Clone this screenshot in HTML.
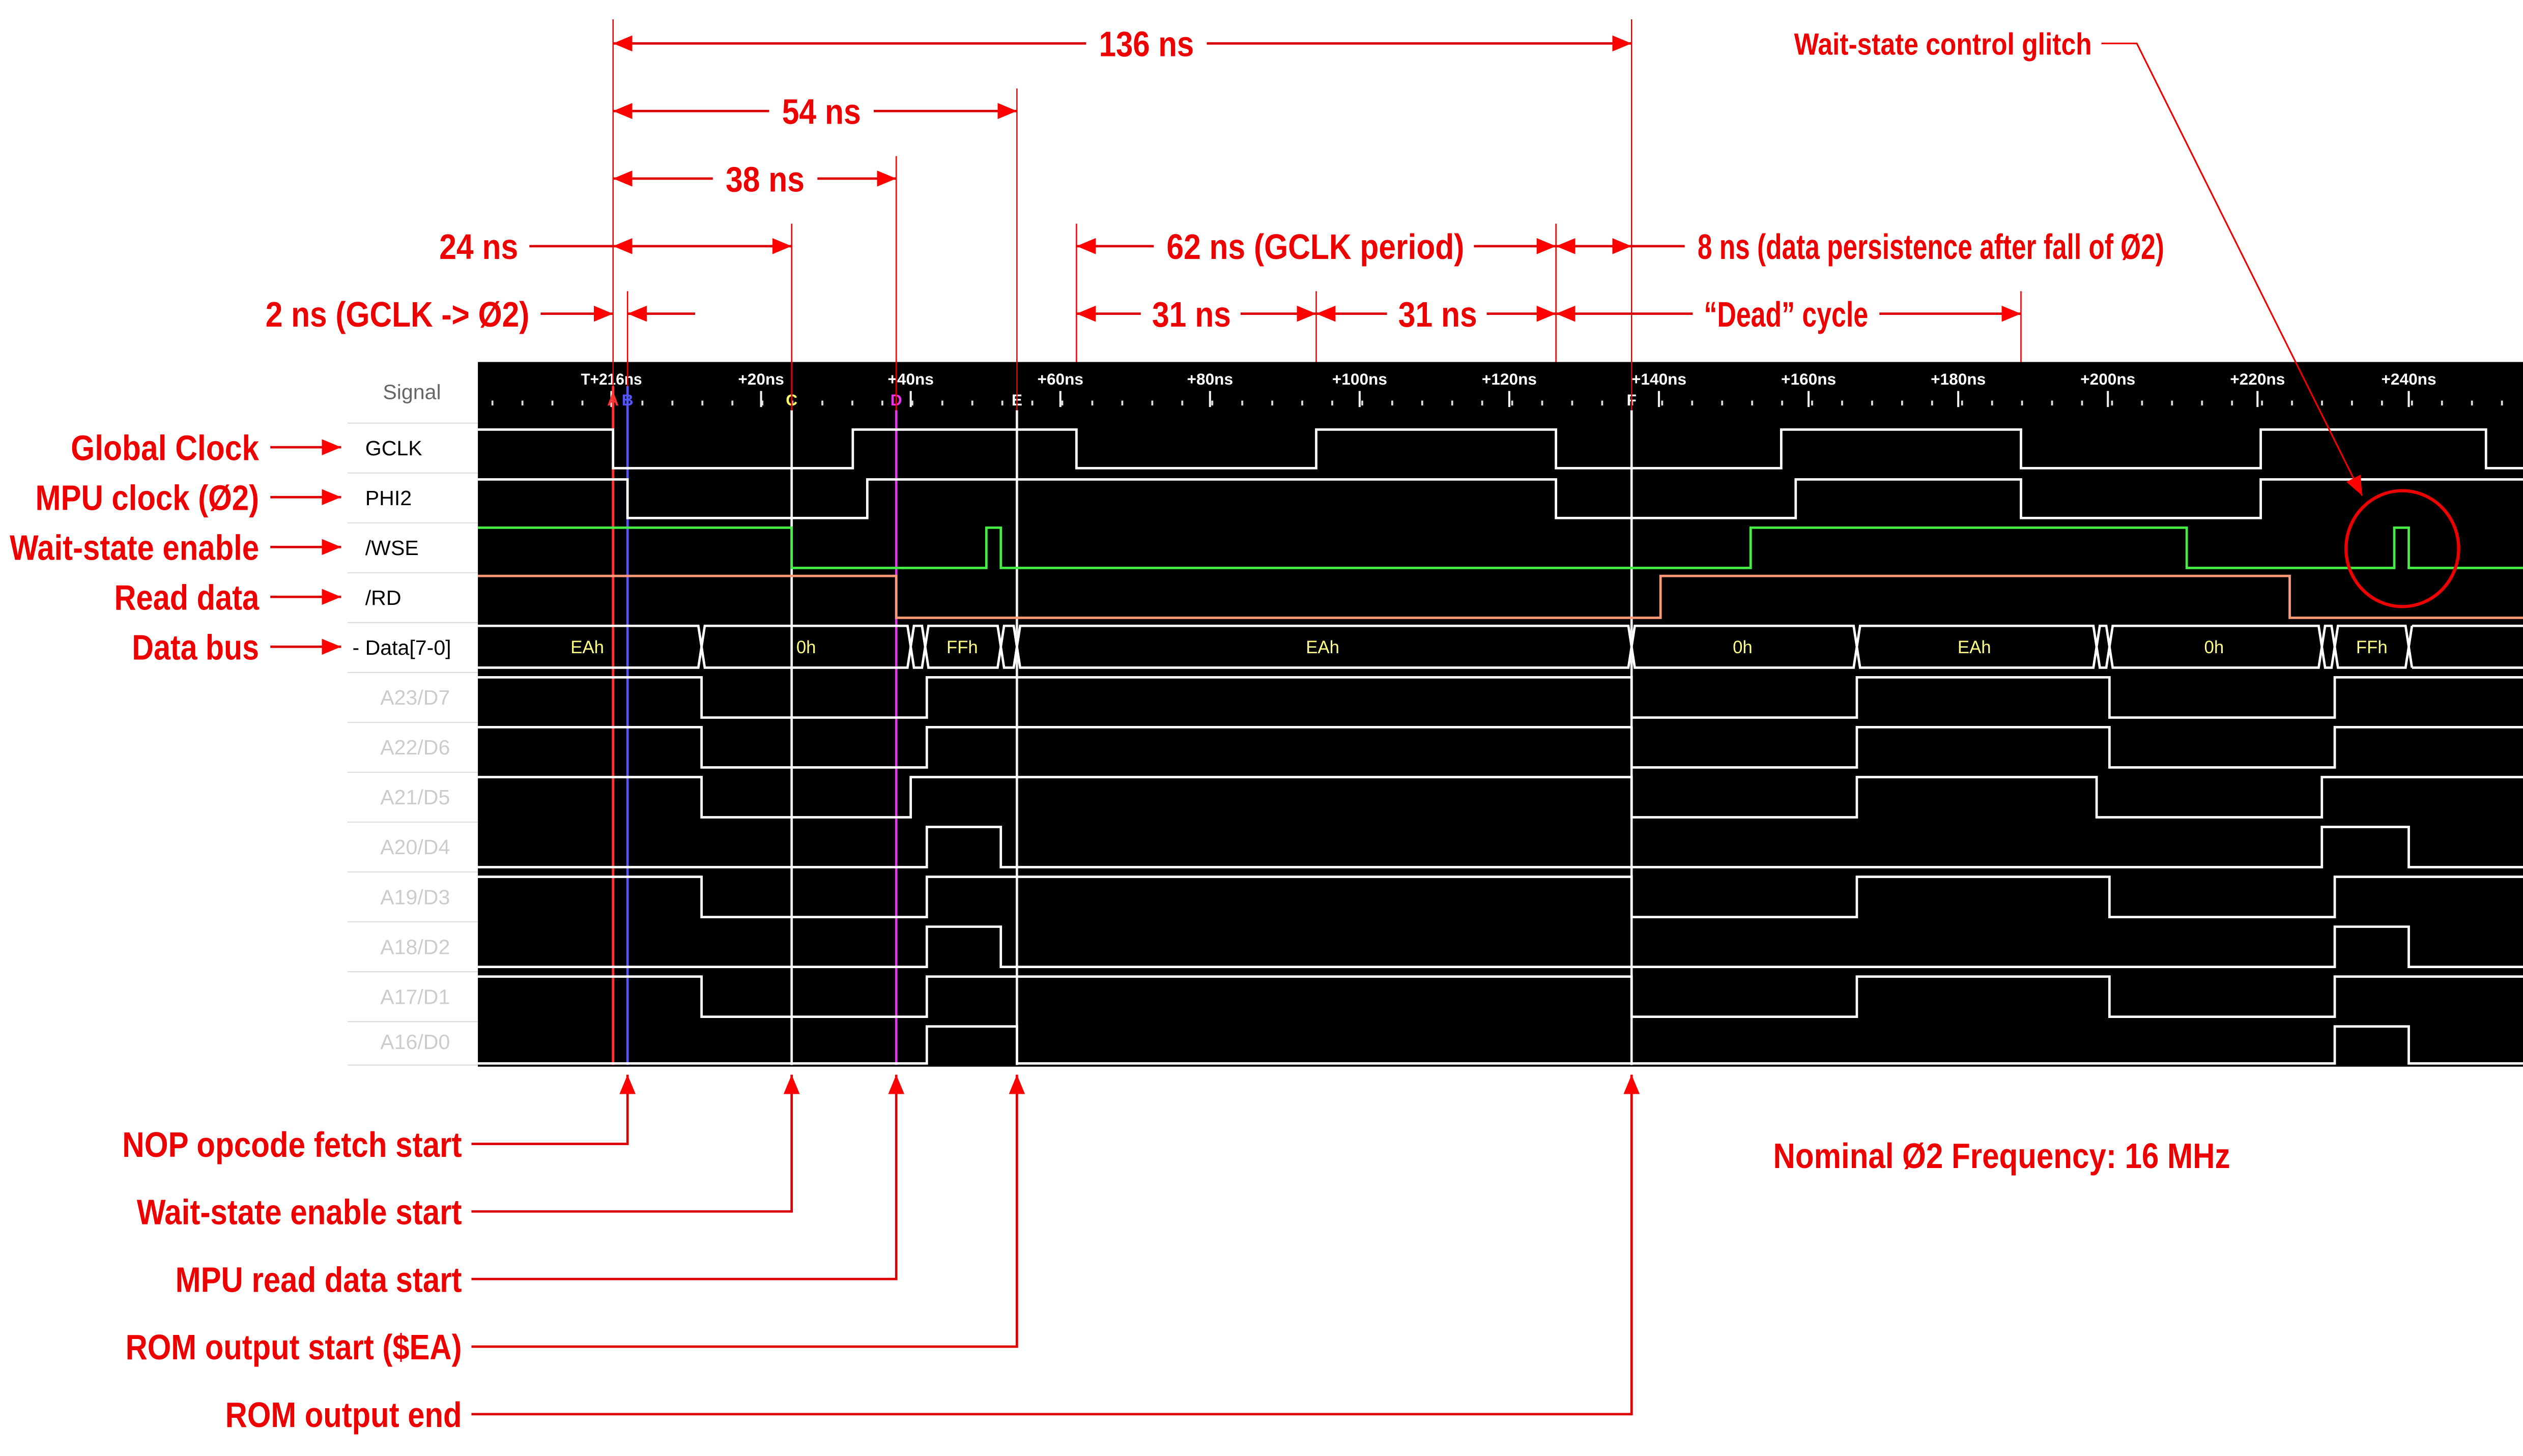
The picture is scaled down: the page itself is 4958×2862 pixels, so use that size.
<!DOCTYPE html>
<html><head><meta charset="utf-8"><style>html,body{margin:0;padding:0;background:#fff}svg{display:block}</style></head>
<body>
<svg xmlns="http://www.w3.org/2000/svg" width="4958" height="2862" viewBox="0 0 1568 905" preserveAspectRatio="none">
<defs>
<marker id="ah" viewBox="0 0 12 10" refX="12" refY="5" markerWidth="12" markerHeight="10" markerUnits="userSpaceOnUse" orient="auto-start-reverse"><path d="M0,0 L12,5 L0,10 Z" fill="#f00"/></marker>
<pattern id="minor" x="380" y="0" width="18.64" height="905" patternUnits="userSpaceOnUse"><rect x="0" y="249" width="1.2" height="3" fill="#ddd"/></pattern>
</defs>
<rect width="1568" height="905" fill="#fff"/>
<rect x="297" y="225" width="1271" height="438" fill="#000"/>
<rect x="297" y="240" width="1271" height="14" fill="url(#minor)"/>
<g stroke="#eee" stroke-width="1.3">
<path d="M380,243V253M473,243V253M566,243V253M659,243V253M752,243V253M845,243V253M938,243V253M1031,243V253M1124,243V253M1217,243V253M1310,243V253M1403,243V253M1497,243V253"/>
</g>
<g font-family="Liberation Sans, sans-serif" font-size="10" fill="#fff" text-anchor="middle" font-weight="bold">
<text x="380" y="239" textLength="38" lengthAdjust="spacingAndGlyphs">T+216ns</text>
<text x="473" y="239">+20ns</text><text x="566" y="239">+40ns</text><text x="659" y="239">+60ns</text><text x="752" y="239">+80ns</text><text x="845" y="239">+100ns</text><text x="938" y="239">+120ns</text><text x="1031" y="239">+140ns</text><text x="1124" y="239">+160ns</text><text x="1217" y="239">+180ns</text><text x="1310" y="239">+200ns</text><text x="1403" y="239">+220ns</text><text x="1497" y="239">+240ns</text>
<text x="381" y="252" fill="#f33">A</text><text x="390" y="252" fill="#55f">B</text><text x="492" y="252" fill="#ff6">C</text><text x="557" y="252" fill="#e3e">D</text><text x="632" y="252">E</text><text x="1014" y="252">F</text>
</g>
<g stroke="#ddd" stroke-width="0.7">
<path d="M216,263H297M216,294H297M216,325H297M216,356H297M216,387H297M216,418H297M216,449H297M216,480H297M216,511H297M216,542H297M216,573H297M216,604H297M216,635H297M216,662H297"/>
</g>
<g font-family="Liberation Sans, sans-serif" font-size="13">
<text x="256" y="248" fill="#666" text-anchor="middle">Signal</text>
<text x="227" y="283" fill="#000">GCLK</text>
<text x="227" y="314" fill="#000">PHI2</text>
<text x="227" y="345" fill="#000">/WSE</text>
<text x="227" y="376" fill="#000">/RD</text>
<text x="219" y="407" fill="#000">- Data[7-0]</text>
<g fill="#ccc" text-anchor="middle">
<text x="258" y="438">A23/D7</text><text x="258" y="469">A22/D6</text><text x="258" y="500">A21/D5</text><text x="258" y="531">A20/D4</text><text x="258" y="562">A19/D3</text><text x="258" y="593">A18/D2</text><text x="258" y="624">A17/D1</text><text x="258" y="652">A16/D0</text>
</g></g>
<g stroke-width="1.5">
<path d="M381,240V662" stroke="#f33"/><path d="M390,240V662" stroke="#55f"/><path d="M492,255V662" stroke="#eee"/><path d="M557,255V662" stroke="#e3e"/><path d="M632,255V662" stroke="#eee"/><path d="M1014,255V662" stroke="#eee"/>
</g>
<g fill="none" stroke-width="1.5">
<path stroke="#fff" d="M297,267 H381 V291 H530 V267 H669 V291 H818 V267 H967 V291 H1107 V267 H1256 V291 H1405 V267 H1545 V291 H1568"/>
<path stroke="#fff" d="M297,298 H390 V322 H539 V298 H967 V322 H1116 V298 H1256 V322 H1405 V298 H1568"/>
<path stroke="#4e4" d="M297,328 H492 V353 H613 V328 H622 V353 H1088 V328 H1359 V353 H1488 V328 H1497 V353 H1568"/>
<path stroke="#f97" d="M297,358 H557 V384 H1032 V358 H1423 V384 H1568"/>
<g stroke="#fff">
<path d="M297,389H434L436,402L434,415H297"/>
<path d="M438,389H564L566,402L564,415H438L436,402Z"/>
<path d="M568,389H573L575,402L573,415H568L566,402Z"/>
<path d="M577,389H620L622,402L620,415H577L575,402Z"/>
<path d="M624,389H630L632,402L630,415H624L622,402Z"/>
<path d="M634,389H1012L1014,402L1012,415H634L632,402Z"/>
<path d="M1016,389H1152L1154,402L1152,415H1016L1014,402Z"/>
<path d="M1156,389H1301L1303,402L1301,415H1156L1154,402Z"/>
<path d="M1305,389H1309L1311,402L1309,415H1305L1303,402Z"/>
<path d="M1313,389H1441L1443,402L1441,415H1313L1311,402Z"/>
<path d="M1445,389H1449L1451,402L1449,415H1445L1443,402Z"/>
<path d="M1453,389H1495L1497,402L1495,415H1453L1451,402Z"/>
<path d="M1499,389H1570M1499,415H1570M1499,389L1497,402L1499,415"/>
<path d="M297,421 H436 V446 H576 V421 H1014 V446 H1154 V421 H1311 V446 H1451 V421 H1568"/>
<path d="M297,452 H436 V477 H576 V452 H1014 V477 H1154 V452 H1311 V477 H1451 V452 H1568"/>
<path d="M297,483 H436 V508 H566 V483 H1014 V508 H1154 V483 H1303 V508 H1443 V483 H1568"/>
<path d="M297,539 H576 V514 H622 V539 H1443 V514 H1497 V539 H1568"/>
<path d="M297,545 H436 V570 H576 V545 H1014 V570 H1154 V545 H1311 V570 H1451 V545 H1568"/>
<path d="M297,601 H576 V576 H622 V601 H1451 V576 H1497 V601 H1568"/>
<path d="M297,607 H436 V632 H576 V607 H1014 V632 H1154 V607 H1311 V632 H1451 V607 H1568"/>
<path d="M297,661 H576 V638 H632 V661 H1451 V638 H1497 V661 H1568"/>
</g></g>
<g font-family="Liberation Sans, sans-serif" font-size="11" fill="#ff8" text-anchor="middle">
<text x="365" y="406">EAh</text><text x="501" y="406">0h</text><text x="598" y="406">FFh</text><text x="822" y="406">EAh</text><text x="1083" y="406">0h</text><text x="1227" y="406">EAh</text><text x="1376" y="406">0h</text><text x="1474" y="406">FFh</text>
</g>
<g stroke="#e00" stroke-width="0.8" fill="none">
<path d="M381,12V240M390,181V240M492,139V255M557,97V255M632,55V255M1014,12V255M669,139V225M818,181V225M967,139V225M1256,181V225"/>
</g>
<g stroke="#d00" stroke-width="1.5" fill="none">
<path d="M675,27H381" marker-end="url(#ah)"/><path d="M750,27H1014" marker-end="url(#ah)"/>
<path d="M478,69H381" marker-end="url(#ah)"/><path d="M543,69H632" marker-end="url(#ah)"/>
<path d="M443,111H381" marker-end="url(#ah)"/><path d="M508,111H557" marker-end="url(#ah)"/>
<path d="M329,153H381"/><path d="M381,153H492" marker-start="url(#ah)" marker-end="url(#ah)"/>
<path d="M336,195H381" marker-end="url(#ah)"/><path d="M432,195H390" marker-end="url(#ah)"/>
<path d="M717,153H669" marker-end="url(#ah)"/><path d="M916,153H967" marker-end="url(#ah)"/>
<path d="M967,153H1014" marker-start="url(#ah)" marker-end="url(#ah)"/><path d="M1014,153H1047"/>
<path d="M709,195H669" marker-end="url(#ah)"/><path d="M771,195H818" marker-end="url(#ah)"/>
<path d="M862,195H818" marker-end="url(#ah)"/><path d="M924,195H967" marker-end="url(#ah)"/>
<path d="M1052,195H967" marker-end="url(#ah)"/><path d="M1168,195H1256" marker-end="url(#ah)"/>
<path d="M168,278H212" marker-end="url(#ah)"/><path d="M168,309H212" marker-end="url(#ah)"/><path d="M168,340H212" marker-end="url(#ah)"/><path d="M168,371H212" marker-end="url(#ah)"/><path d="M168,402H212" marker-end="url(#ah)"/>
<path d="M293,711H390V668" marker-end="url(#ah)"/>
<path d="M293,753H492V668" marker-end="url(#ah)"/>
<path d="M293,795H557V668" marker-end="url(#ah)"/>
<path d="M293,837H632V668" marker-end="url(#ah)"/>
<path d="M293,879H1014V668" marker-end="url(#ah)"/>
</g>
<g stroke="#e00" stroke-width="1" fill="none">
<path d="M1306,27H1328L1468,308" marker-end="url(#ah)"/>
</g>
<ellipse cx="1493" cy="341" rx="35" ry="36" fill="none" stroke="#e00" stroke-width="2"/>
<g font-family="Liberation Sans, sans-serif" font-size="22" font-weight="bold" fill="#e00">
<text x="683" y="35" textLength="59" lengthAdjust="spacingAndGlyphs">136 ns</text>
<text x="486" y="77" textLength="49" lengthAdjust="spacingAndGlyphs">54 ns</text>
<text x="451" y="119" textLength="49" lengthAdjust="spacingAndGlyphs">38 ns</text>
<text x="273" y="161" textLength="49" lengthAdjust="spacingAndGlyphs">24 ns</text>
<text x="165" y="203" textLength="164" lengthAdjust="spacingAndGlyphs">2 ns (GCLK -&gt; Ø2)</text>
<text x="725" y="161" textLength="185" lengthAdjust="spacingAndGlyphs">62 ns (GCLK period)</text>
<text x="1055" y="161" textLength="290" lengthAdjust="spacingAndGlyphs">8 ns (data persistence after fall of Ø2)</text>
<text x="716" y="203" textLength="49" lengthAdjust="spacingAndGlyphs">31 ns</text>
<text x="869" y="203" textLength="49" lengthAdjust="spacingAndGlyphs">31 ns</text>
<text x="1059" y="203" textLength="102" lengthAdjust="spacingAndGlyphs">“Dead” cycle</text>
<text x="1115" y="34" textLength="185" lengthAdjust="spacingAndGlyphs" font-size="19">Wait-state control glitch</text>
<text x="44" y="286" textLength="117" lengthAdjust="spacingAndGlyphs">Global Clock</text>
<text x="22" y="317" textLength="139" lengthAdjust="spacingAndGlyphs">MPU clock (Ø2)</text>
<text x="6" y="348" textLength="155" lengthAdjust="spacingAndGlyphs">Wait-state enable</text>
<text x="71" y="379" textLength="90" lengthAdjust="spacingAndGlyphs">Read data</text>
<text x="82" y="410" textLength="79" lengthAdjust="spacingAndGlyphs">Data bus</text>
<text x="76" y="719" textLength="211" lengthAdjust="spacingAndGlyphs">NOP opcode fetch start</text>
<text x="85" y="761" textLength="202" lengthAdjust="spacingAndGlyphs">Wait-state enable start</text>
<text x="109" y="803" textLength="178" lengthAdjust="spacingAndGlyphs">MPU read data start</text>
<text x="78" y="845" textLength="209" lengthAdjust="spacingAndGlyphs">ROM output start ($EA)</text>
<text x="140" y="887" textLength="147" lengthAdjust="spacingAndGlyphs">ROM output end</text>
<text x="1102" y="726" textLength="284" lengthAdjust="spacingAndGlyphs">Nominal Ø2 Frequency: 16 MHz</text>
</g>
</svg>
</body></html>
